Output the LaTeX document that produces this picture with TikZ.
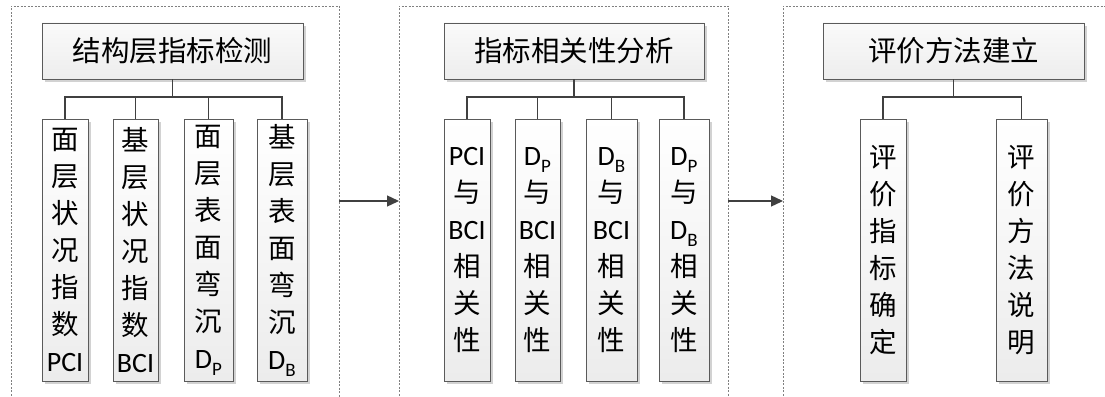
\documentclass[tikz,border=0pt]{standalone}
\usepackage{fontspec}
\setmainfont{Carlito}
\newfontfamily\cjk{Noto Sans CJK SC}
\newfontfamily\latf{Carlito}
\usetikzlibrary{shadows,arrows.meta}
\newcommand\lt[1]{{\latf\fontsize{28}{37}\selectfont #1}}
\newcommand\sbs[1]{\raisebox{-0.25em}{\fontsize{19}{19}\selectfont #1}}
\definecolor{bordc}{HTML}{5A5A5A}
\definecolor{linec}{HTML}{404040}
\definecolor{dashc}{HTML}{808080}
\tikzset{
  x=1pt, y=-1pt,
  basebox/.style={draw=bordc, line width=0.9pt, inner sep=0pt,
    drop shadow={shadow xshift=3pt, shadow yshift=-3pt, fill=gray!35, opacity=1}},
  titlebox/.style={basebox, minimum height=56pt, top color=gray!4, bottom color=gray!14,
    font=\cjk\fontsize{28.5}{30}\selectfont},
  colbox/.style={basebox, minimum height=262pt, top color=white, bottom color=gray!15,
    align=center, font=\cjk\fontsize{27.5}{37}\selectfont},
  conn/.style={draw=linec, line width=1.2pt},
  panel/.style={draw=dashc, line width=0.8pt, dash pattern=on 2pt off 1.5pt},
  flow/.style={draw=linec, line width=1.3pt, -{Triangle[length=12pt,width=11pt]}},
}
\begin{document}
\begin{tikzpicture}
\useasboundingbox (0,0) rectangle (1105,396);
\clip (0,0) rectangle (1105,396);
% panels
\draw[panel] (11,420) -- (11,6) -- (339,6) -- (339,420);
\draw[panel] (399,420) -- (399,6) -- (728,6) -- (728,420);
\draw[panel] (783,420) -- (783,6) -- (1120,6) -- (1120,420);
\coordinate (p1r) at (339,201);
\coordinate (p2l) at (399,201);
\coordinate (p2r) at (728,201);
\coordinate (p3l) at (783,201);
\draw[flow] (p1r) -- (p2l);
\draw[flow] (p2r) -- (p3l);

% panel 1
\node[titlebox, minimum width=261pt] (t1) at (172.5,51) {结构层指标检测};
\node[colbox, minimum width=46pt] (c11) at (65,250) {面\\层\\状\\况\\指\\数\\\lt{PCI}};
\node[colbox, minimum width=45pt] (c12) at (135.5,250) {基\\层\\状\\况\\指\\数\\\lt{BCI}};
\node[colbox, minimum width=49pt] (c13) at (208.5,250) {面\\层\\表\\面\\弯\\沉\\\lt{D\sbs{P}}};
\node[colbox, minimum width=50pt] (c14) at (282,250) {基\\层\\表\\面\\弯\\沉\\\lt{D\sbs{B}}};
\coordinate (b1) at (172.5,97);
\draw[conn] (t1.south) -- (b1);
\foreach \c in {c11,c12,c13,c14} \draw[conn] (b1) -| (\c.north);

% panel 2
\node[titlebox, minimum width=260pt] (t2) at (574,51) {指标相关性分析};
\node[colbox, minimum width=46pt] (c21) at (467,250) {\lt{PCI}\\与\\\lt{BCI}\\相\\关\\性};
\node[colbox, minimum width=45pt] (c22) at (537.5,250) {\lt{D\sbs{P}}\\与\\\lt{BCI}\\相\\关\\性};
\node[colbox, minimum width=51pt] (c23) at (611.5,250) {\lt{D\sbs{B}}\\与\\\lt{BCI}\\相\\关\\性};
\node[colbox, minimum width=50pt] (c24) at (684,250) {\lt{D\sbs{P}}\\与\\\lt{D\sbs{B}}\\相\\关\\性};
\coordinate (b2) at (574,97);
\draw[conn] (t2.south) -- (b2);
\foreach \c in {c21,c22,c23,c24} \draw[conn] (b2) -| (\c.north);

% panel 3
\node[titlebox, minimum width=261pt] (t3) at (953.5,51) {评价方法建立};
\node[colbox, minimum width=46pt] (c31) at (883,250) {评\\价\\指\\标\\确\\定};
\node[colbox, minimum width=51pt] (c32) at (1021.5,250) {评\\价\\方\\法\\说\\明};
\coordinate (b3) at (953.5,97);
\draw[conn] (t3.south) -- (b3);
\foreach \c in {c31,c32} \draw[conn] (b3) -| (\c.north);
\end{tikzpicture}
\end{document}
